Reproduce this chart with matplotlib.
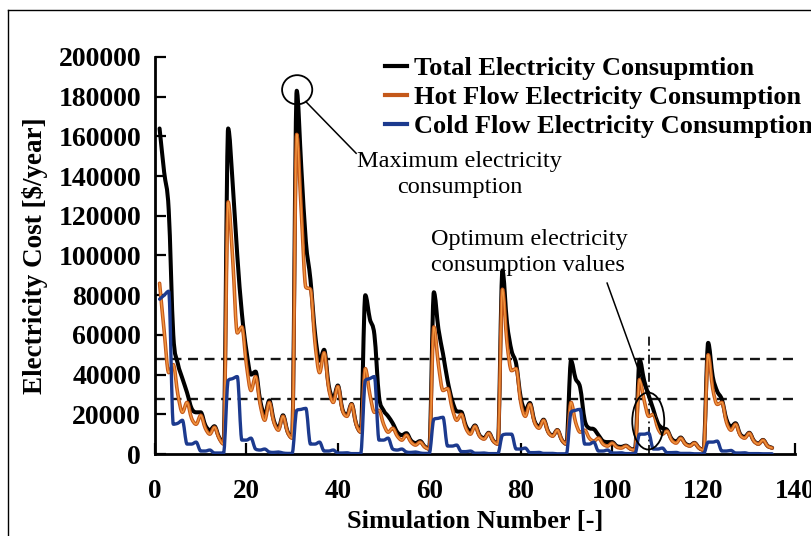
import matplotlib
matplotlib.use('Agg')
import matplotlib.pyplot as plt
from matplotlib.patches import Ellipse, PathPatch
from matplotlib.path import Path
from matplotlib.lines import Line2D

# ---------------- data ----------------
sims = list(range(1, 136))

hot = [
    86000, 62000, 41000, 45000, 30000, 21000, 26000, 18000, 15000, 19500, 13000, 10000, 13500, 8000, 5000,
    127000, 98000, 61000, 64000, 45000, 32000, 39000, 25000, 17000, 26000, 16000, 12000, 19000, 11000, 8000,
    161000, 122000, 84000, 83000, 56000, 41000, 51000, 33000, 26000, 34000, 22000, 19000, 25000, 15000, 11000,
    43000, 30000, 21000, 22000, 15000, 11000, 13000, 9000, 7000, 9500, 6000, 4500, 6000, 3500, 2500,
    64000, 45000, 32000, 33000, 23000, 17000, 20000, 13000, 10000, 14000, 9000, 7500, 10500, 6500, 5000,
    83000, 56000, 42000, 43000, 26000, 19000, 25000, 16000, 13000, 17000, 11000, 9000, 12000, 7000, 5000,
    26000, 16000, 11000, 12000, 8000, 6500, 8000, 5000, 4000, 5500, 3500, 3000, 4000, 2500, 2000,
    37500, 27000, 19000, 20000, 13000, 10000, 11500, 7000, 5500, 8000, 5000, 4000, 5500, 3000, 2000,
    50000, 33000, 25000, 26000, 16000, 12000, 15000, 9500, 8000, 10500, 6500, 5000, 7000, 4000, 3000,
]

cold = [
    78000, 80000, 82000, 15000, 15500, 17000, 5000, 5000, 6000, 1500, 1500, 2000, 500, 500, 500,
    37000, 38000, 39000, 7000, 7000, 8000, 2500, 2000, 2500, 1000, 800, 1000, 500, 300, 300,
    22000, 22500, 23000, 5000, 5000, 6000, 1500, 1500, 2000, 500, 500, 600, 200, 200, 200,
    37000, 38000, 39000, 7000, 7000, 8000, 2500, 2000, 2500, 1000, 800, 1000, 500, 300, 300,
    17500, 18000, 18500, 4000, 4000, 4500, 1200, 1200, 1500, 400, 400, 500, 200, 200, 200,
    9500, 10000, 10000, 2500, 2500, 3000, 700, 700, 800, 300, 300, 300, 100, 100, 100,
    21000, 22000, 22500, 5000, 5000, 6000, 1500, 1500, 2000, 500, 500, 600, 200, 200, 200,
    10000, 10000, 10500, 2500, 2500, 3000, 700, 700, 800, 300, 300, 300, 100, 100, 100,
    6000, 6000, 6500, 1500, 1500, 1800, 500, 500, 600, 200, 200, 200, 100, 100, 100,
]

total = [
    164000, 142000, 123000, 60000, 45500, 38000, 31000, 23000, 21000, 21000, 14500, 12000, 14000, 8500, 5500,
    164000, 136000, 100000, 71000, 52000, 40000, 41500, 27000, 19500, 27000, 16800, 13000, 19500, 11300, 8300,
    183000, 144500, 107000, 88000, 61000, 47000, 52500, 34500, 28000, 34500, 22500, 19600, 25200, 15200, 11200,
    80000, 68000, 60000, 29000, 22000, 19000, 15500, 11000, 9500, 10500, 6800, 5500, 6500, 3800, 2800,
    81500, 63000, 50500, 37000, 27000, 21500, 21200, 14200, 11500, 14400, 9400, 8000, 10700, 6700, 5200,
    92500, 66000, 52000, 45500, 28500, 22000, 25700, 16700, 13800, 17300, 11300, 9300, 12100, 7100, 5100,
    47000, 38000, 33500, 17000, 13000, 12500, 9500, 6500, 6000, 6000, 4000, 3600, 4200, 2700, 2200,
    47500, 37000, 29500, 22500, 15500, 13000, 12200, 7700, 6300, 8300, 5300, 4300, 5600, 3100, 2100,
    56000, 39000, 31500, 27500, 17500, 13800, 15500, 10000, 8600, 10700, 6700, 5200, 7100, 4100, 3100,
]

x_ticks = [0, 20, 40, 60, 80, 100, 120, 140]
y_ticks = [0, 20000, 40000, 60000, 80000, 100000, 120000, 140000, 160000, 180000, 200000]
upper_ref = 48000
lower_ref = 27500
optimum_sim = 108
optimum_top = 60000
series_labels = ["Total Electricity Consupmtion",
                 "Hot Flow Electricity Consumption",
                 "Cold Flow Electricity Consumption"]


def smooth_line(ax, xs, ys, **kw):
    """Draw the series as a smoothed curve through its points (no overshoot at extremes)."""
    n = len(xs)
    slopes = []
    for i in range(n):
        if i == 0:
            s = (ys[1] - ys[0]) / (xs[1] - xs[0])
        elif i == n - 1:
            s = (ys[i] - ys[i - 1]) / (xs[i] - xs[i - 1])
        else:
            d0 = ys[i] - ys[i - 1]
            d1 = ys[i + 1] - ys[i]
            if d0 * d1 <= 0:
                s = 0.0
            else:
                s = (ys[i + 1] - ys[i - 1]) / (xs[i + 1] - xs[i - 1])
                lim = 3 * min(abs(d0), abs(d1))
                if abs(s) > lim:
                    s = lim if s > 0 else -lim
        slopes.append(s)
    verts = [(xs[0], ys[0])]
    codes = [Path.MOVETO]
    for i in range(n - 1):
        h = xs[i + 1] - xs[i]
        verts += [(xs[i] + h / 3, ys[i] + slopes[i] * h / 3),
                  (xs[i + 1] - h / 3, ys[i + 1] - slopes[i + 1] * h / 3),
                  (xs[i + 1], ys[i + 1])]
        codes += [Path.CURVE4] * 3
    patch = PathPatch(Path(verts, codes), fill=False, joinstyle='round', capstyle='round', **kw)
    ax.add_patch(patch)
    return patch


# ---------------- figure ----------------
W, H = 812, 536
plt.rcParams['font.family'] = ['Liberation Serif', 'DejaVu Serif']
fig = plt.figure(figsize=(W / 100, H / 100), dpi=100)
ax = fig.add_axes([155 / W, 1 - 454 / H, 640 / W, 397 / H])

# outer border (top & left edge visible)
fig.add_artist(Line2D([8.5 / W, 8.5 / W], [0, 1 - 9.5 / H], transform=fig.transFigure,
                      color='black', lw=1.0))
fig.add_artist(Line2D([8.5 / W, 1], [1 - 9.5 / H, 1 - 9.5 / H], transform=fig.transFigure,
                      color='black', lw=1.0))

BLACK = '#000000'
ORANGE_D = '#C4581A'
ORANGE_L = '#F3963E'
BLUE = '#1C3A8E'

smooth_line(ax, sims, total, ec=BLACK, lw=2.9, zorder=3)
smooth_line(ax, sims, hot, ec=ORANGE_D, lw=2.6, zorder=4)
smooth_line(ax, sims, hot, ec=ORANGE_L, lw=1.0, zorder=4.1)
smooth_line(ax, sims, cold, ec=BLUE, lw=2.4, zorder=5)

# reference lines
ax.plot([0, 140], [upper_ref, upper_ref], color='#151515', lw=1.7, ls=(0, (4.2, 2.8)), zorder=2)
ax.plot([0, 140], [lower_ref, lower_ref], color='#151515', lw=1.7, ls=(0, (4.2, 2.8)), zorder=2)
ax.plot([optimum_sim, optimum_sim], [0, optimum_top], color='#151515', lw=1.3,
        ls=(0, (5, 2, 1, 2)), zorder=2)

# annotations
ax.add_patch(Ellipse((31.1, 183500), width=6.6, height=14700, fill=False, ec='black', lw=1.3, zorder=6))
ax.plot([33.0, 44.0], [177500, 151500], color='black', lw=1.1, zorder=6)
ax.text(66.7, 141000, "Maximum electricity\nconsumption", ha='center', va='center',
        multialignment='center', fontsize=17.5, linespacing=1.3)

ax.add_patch(Ellipse((107.9, 16600), width=7.0, height=28700, fill=False, ec='black', lw=1.3, zorder=6))
ax.plot([98.9, 110.9], [86100, 9600], color='black', lw=1.1, zorder=6)
ax.text(82.0, 101500, "Optimum electricity\nconsumption values", ha='center', va='center',
        multialignment='left', fontsize=17.5, linespacing=1.3)

# axes
ax.set_xlim(0, 140)
ax.set_ylim(0, 200000)
ax.set_xticks(x_ticks)
ax.set_yticks(y_ticks)
ax.set_xticklabels([str(v) for v in x_ticks], fontweight='bold')
ax.set_yticklabels([str(v) for v in y_ticks], fontweight='bold')
ax.tick_params(axis='both', direction='in', length=8, width=1.6, labelsize=20, colors='black')
ax.tick_params(axis='x', pad=18, labelsize=19.5)
ax.tick_params(axis='y', pad=10)
for s in ['top', 'right']:
    ax.spines[s].set_visible(False)
for s in ['left', 'bottom']:
    ax.spines[s].set_linewidth(2.0)

ax.set_xlabel("Simulation Number [-]", fontsize=19, fontweight='bold')
ax.set_ylabel("Electricity Cost [$/year]", fontsize=19.5, fontweight='bold')
ax.xaxis.set_label_coords(0.5, -0.169)
ax.xaxis.label.set_va('center')
ax.yaxis.set_label_coords(-0.1875, 0.5)
ax.yaxis.label.set_va('center')

handles = [Line2D([], [], color=BLACK, lw=3),
           Line2D([], [], color=ORANGE_D, lw=3),
           Line2D([], [], color=BLUE, lw=3)]
leg = fig.legend(handles, series_labels, loc='upper left',
                 bbox_to_anchor=(385 / W, 1 - 57 / H), frameon=False,
                 prop={'weight': 'bold', 'size': 19}, handlelength=0.85,
                 handletextpad=0.25, labelspacing=0.2, borderpad=0, borderaxespad=0)

fig.savefig('out.png', dpi=100)
